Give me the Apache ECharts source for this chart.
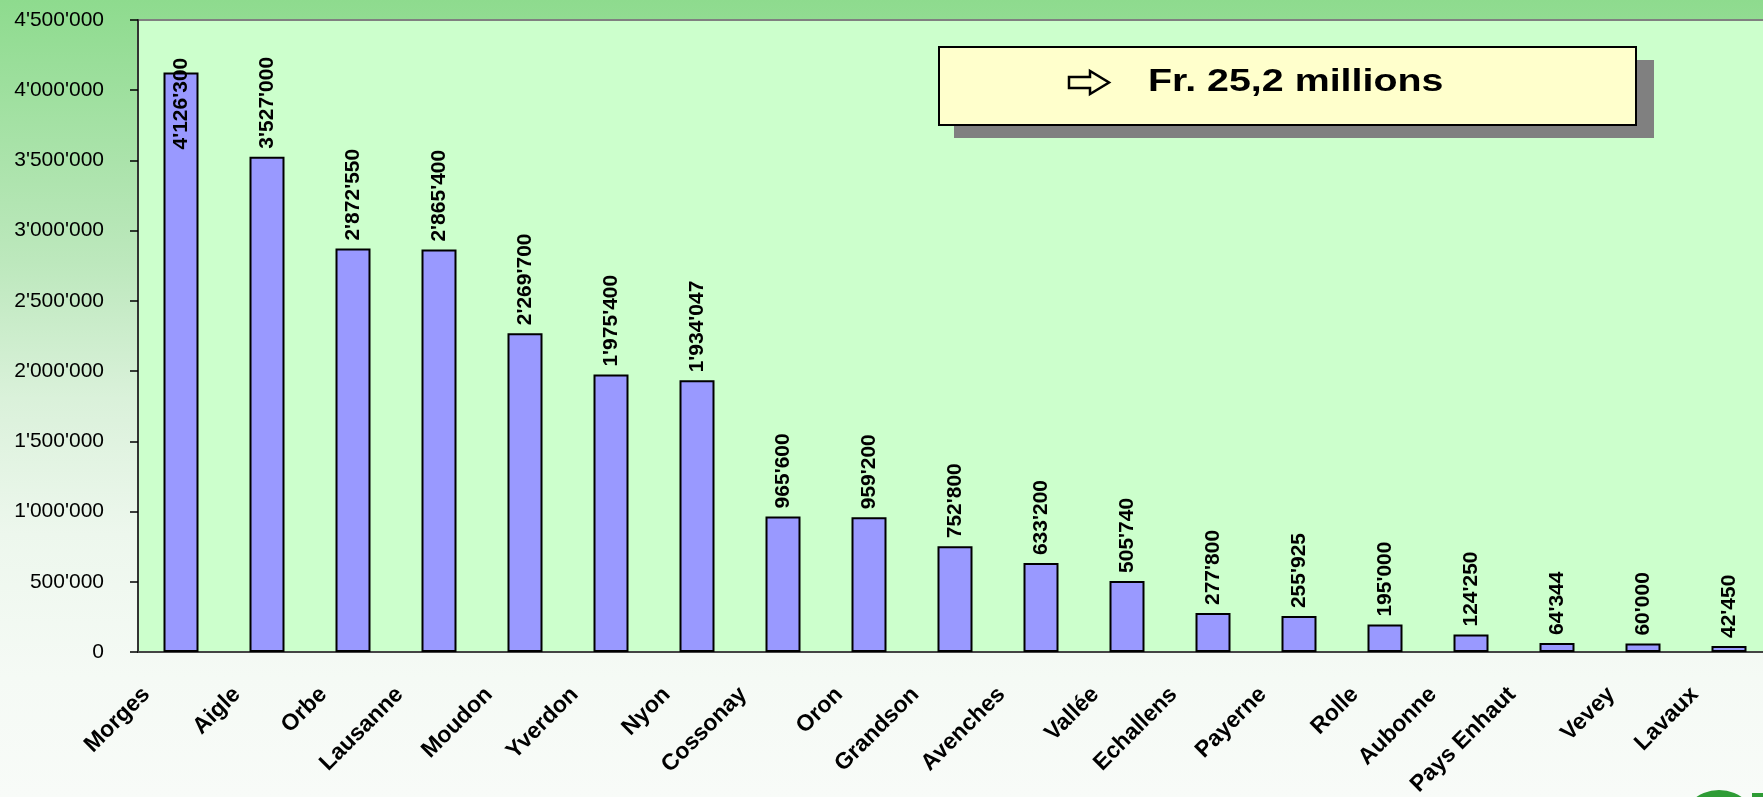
<html lang="fr">
<head>
    <meta charset="UTF-8">
    <script src="https://cdn.jsdelivr.net/npm/echarts@6/dist/echarts.min.js"></script>
    <title>Fr. 25,2 millions</title>
    <style>
      html, body { margin: 0; padding: 0; }
      #main {
        width: 1763px; height: 797px;
        background: linear-gradient(to bottom, #8edb8e 0%, #bde8bd 33%, #daf1da 50%, #edf7ed 67%, #f5faf5 85%, #f8fbf8 100%);
      }
    </style>
</head>
<body>

<div id="main"></div>

<script>
  // districts and amounts (Fr.)
  var districts = ['Morges', 'Aigle', 'Orbe', 'Lausanne', 'Moudon', 'Yverdon', 'Nyon', 'Cossonay',
                   'Oron', 'Grandson', 'Avenches', 'Vallée', 'Echallens', 'Payerne', 'Rolle',
                   'Aubonne', 'Pays Enhaut', 'Vevey', 'Lavaux'];
  var amounts = [4126300, 3527000, 2872550, 2865400, 2269700, 1975400, 1934047, 965600,
                 959200, 752800, 633200, 505740, 277800, 255925, 195000,
                 124250, 64344, 60000, 42450];
  var totalText = 'Fr. 25,2 millions';

  var FONT = '"Liberation Sans", Arial, sans-serif';
  var XFONT_SIZE = 23;

  // 4500000 -> 4'500'000
  function swiss(v) {
    return String(v).replace(/\B(?=(\d{3})+(?!\d))/g, "'");
  }

  // Excel slides the 45deg labels left, longer ones a bit more.
  // (rich text) right padding moves along the text, bottom padding moves it up:
  // right = p, bottom = 2p gives a pure horizontal shift of p*sqrt2
  var ctx = document.createElement('canvas').getContext('2d');
  ctx.font = 'bold ' + XFONT_SIZE + 'px ' + FONT;
  var categoryData = districts.map(function (name) {
    var w = ctx.measureText(name).width;
    var d = 20 + 0.18 * w;
    var pr = d / Math.SQRT2;
    return { value: name, textStyle: { padding: [0, pr, 2 * pr, 0] } };
  });

  var barData = amounts.map(function (v, i) {
    var item = { value: v };
    if (i === 0) {
      // first label would leave the plot: Excel pushed it down into the bar
      item.label = { position: ['50%', 77], align: 'left', verticalAlign: 'middle', rotate: 90 };
    }
    return item;
  });

  var myChart = echarts.init(document.getElementById('main'));

  var option = {
    backgroundColor: 'transparent',
    animation: false,
    grid: {
      left: 138, top: 20, right: -9, bottom: 145,
      outerBoundsMode: 'none',
      containLabel: false,
      show: true,
      backgroundColor: '#ccffcc',
      borderColor: '#808080',
      borderWidth: 2
    },
    xAxis: {
      type: 'category',
      data: categoryData,
      axisLine: { lineStyle: { color: '#444', width: 2 } },
      axisTick: { length: 9, lineStyle: { color: '#000', width: 1.5 } },
      axisLabel: {
        interval: 0,
        rotate: 45,
        margin: 39,
        color: '#000',
        fontFamily: FONT,
        fontWeight: 'bold',
        fontSize: XFONT_SIZE,
        formatter: function (v) { return '{t|' + v + '}'; },
        rich: {
          t: { color: '#000', fontFamily: FONT, fontWeight: 'bold', fontSize: XFONT_SIZE }
        }
      }
    },
    yAxis: {
      type: 'value',
      min: 0,
      max: 4500000,
      interval: 500000,
      splitLine: { show: false },
      axisLine: { show: true, lineStyle: { color: '#333', width: 2 } },
      axisTick: { show: true, length: 8, lineStyle: { color: '#000', width: 1.5 } },
      axisLabel: {
        margin: 34,
        color: '#000',
        fontFamily: FONT,
        fontSize: 21,
        formatter: swiss
      }
    },
    series: [{
      type: 'bar',
      data: barData,
      barWidth: 35,
      itemStyle: { color: '#9999ff', borderColor: '#000', borderWidth: 2 },
      label: {
        show: true,
        position: 'top',
        distance: 8,
        rotate: 90,
        align: 'left',
        verticalAlign: 'middle',
        color: '#000',
        fontFamily: FONT,
        fontWeight: 'bold',
        fontSize: 21,
        formatter: function (p) { return swiss(p.value); }
      }
    }],
    graphic: [
      // shadow + box with the total
      { type: 'rect', shape: { x: 954, y: 60, width: 700, height: 78 }, style: { fill: '#808080' }, z: 10 },
      { type: 'rect', shape: { x: 939, y: 47, width: 697, height: 78 },
        style: { fill: '#ffffcc', stroke: '#000', lineWidth: 2 }, z: 11 },
      { type: 'polygon',
        shape: { points: [[1069, 77], [1090, 77], [1090, 71], [1109, 82.5], [1090, 94], [1090, 88], [1069, 88]] },
        style: { fill: '#ffffcc', stroke: '#000', lineWidth: 2.5, lineJoin: 'miter' }, z: 12 },
      { type: 'text', x: 1148, y: 82, scaleX: 1.27,
        style: { text: totalText, fill: '#000', font: 'bold 31px ' + FONT, verticalAlign: 'middle' }, z: 12 },
      // bit of the logo cut by the bottom edge
      { type: 'ring', shape: { cx: 1719, cy: 830, r: 40, r0: 26 }, style: { fill: '#2e9c35' }, z: 5 },
      { type: 'rect', shape: { x: 1752, y: 793, width: 11, height: 4 }, style: { fill: '#2e9c35' }, z: 5 }
    ]
  };

  myChart.setOption(option);
</script>

</body>
</html>
